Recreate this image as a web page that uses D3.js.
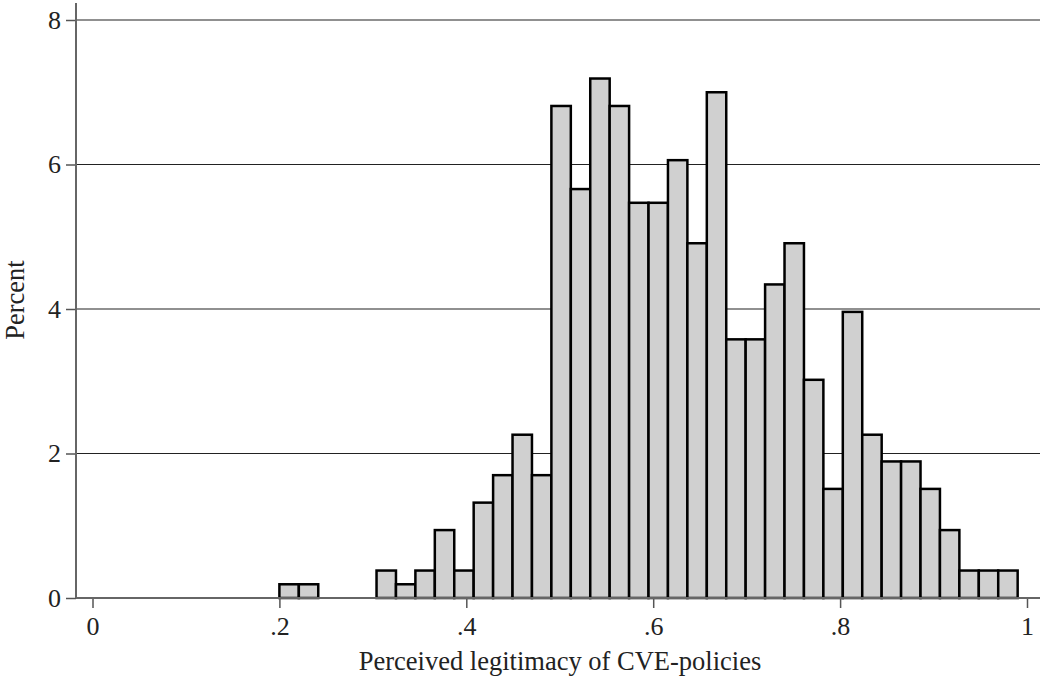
<!DOCTYPE html>
<html>
<head>
<meta charset="utf-8">
<script src="https://cdn.jsdelivr.net/npm/d3@7"></script>
<style>
  body { margin: 0; background: #fff; }
  text { font-family: "Liberation Serif", "DejaVu Serif", serif; fill: #222; }
</style>
</head>
<body>
<div id="chart"></div>
<script>
var svgWidth = 1044;
var svgHeight = 678;

// histogram bins: start at .2, 38 bins of equal width up to .99
var binStart = 0.2;
var binEnd = 0.99;
var percents = [0.19, 0.19, 0, 0, 0,
	0.38, 0.19, 0.38, 0.94, 0.38, 1.32, 1.70, 2.26, 1.70,
	6.81, 5.66, 7.19, 6.81, 5.47, 5.47, 6.06, 4.91, 7.00,
	3.58, 3.58, 4.34, 4.91, 3.02, 1.51, 3.96, 2.26,
	1.89, 1.89, 1.51, 0.94, 0.38, 0.38, 0.38];
var xTicks = [0, 0.2, 0.4, 0.6, 0.8, 1];
var xTickLabels = ["0", ".2", ".4", ".6", ".8", "1"];
var yTicks = [0, 2, 4, 6, 8];

var binWidth = (binEnd - binStart) / percents.length;
var bins = percents.map(function(p, i) {
	return { x0: binStart + i * binWidth, x1: binStart + (i + 1) * binWidth, pct: p };
});

var plotLeft = 76, plotRight = 1040, plotTop = 20, plotBottom = 598;

var svg = d3.select("#chart")
	.append("svg")
	.attr("width", svgWidth)
	.attr("height", svgHeight);

var x = d3.scaleLinear().domain([0, 1]).range([92.5, 1027]);
var y = d3.scaleLinear().domain([0, 8]).range([plotBottom, plotTop]);

// gridlines
svg.append("g")
	.selectAll("line")
	.data(yTicks.filter(d => d > 0))
	.enter()
	.append("line")
	.attr("x1", plotLeft)
	.attr("x2", plotRight)
	.attr("y1", d => y(d))
	.attr("y2", d => y(d))
	.attr("stroke", "#222")
	.attr("stroke-width", 1.2);

// bars
svg.append("g")
	.selectAll("rect")
	.data(bins.filter(d => d.pct > 0))
	.enter()
	.append("rect")
	.attr("x", d => x(d.x0))
	.attr("y", d => y(d.pct))
	.attr("width", d => x(d.x1) - x(d.x0))
	.attr("height", d => y(0) - y(d.pct))
	.attr("fill", "#d0d0d0")
	.attr("stroke", "#000")
	.attr("stroke-width", 2.5);

// y axis
var leftAxis = d3.axisLeft(y).tickValues(yTicks).tickSize(10).tickPadding(5).tickFormat(d3.format("d"));
var yAxis = svg.append("g")
	.attr("transform", `translate(${plotLeft}, 0)`)
	.call(leftAxis);
yAxis.select(".domain").remove();
yAxis.append("line")
	.attr("x1", 0).attr("x2", 0)
	.attr("y1", 3).attr("y2", plotBottom)
	.attr("stroke", "#666").attr("stroke-width", 2);
yAxis.selectAll(".tick line").attr("stroke", "#555").attr("stroke-width", 1.5);
yAxis.selectAll(".tick text")
	.attr("font-size", 26)
	.attr("font-family", "Liberation Serif")
	.attr("fill", "#222");

// x axis
var bottomAxis = d3.axisBottom(x).tickValues(xTicks).tickSize(10).tickPadding(9)
	.tickFormat((d, i) => xTickLabels[i]);
var xAxis = svg.append("g")
	.attr("transform", `translate(0, ${plotBottom})`)
	.call(bottomAxis);
xAxis.select(".domain").remove();
xAxis.append("line")
	.attr("x1", plotLeft).attr("x2", plotRight)
	.attr("y1", 0).attr("y2", 0)
	.attr("stroke", "#666").attr("stroke-width", 2);
xAxis.selectAll(".tick line").attr("stroke", "#555").attr("stroke-width", 1.5);
xAxis.selectAll(".tick text")
	.attr("font-size", 26)
	.attr("font-family", "Liberation Serif")
	.attr("fill", "#222");

// axis titles
svg.append("text")
	.attr("x", 560)
	.attr("y", 670)
	.attr("text-anchor", "middle")
	.attr("font-size", 26.5)
	.text("Perceived legitimacy of CVE-policies");

svg.append("text")
	.attr("transform", "rotate(-90)")
	.attr("x", -300)
	.attr("y", 24)
	.attr("text-anchor", "middle")
	.attr("font-size", 26.5)
	.text("Percent");
</script>
</body>
</html>
